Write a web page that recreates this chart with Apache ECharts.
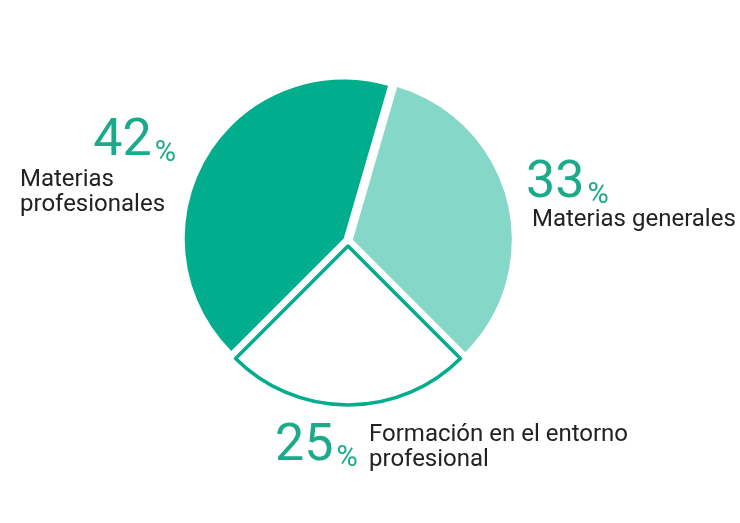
<!DOCTYPE html>
<html>
<head>
<meta charset="utf-8">
<script src="https://cdn.jsdelivr.net/npm/echarts@6/dist/echarts.min.js"></script>
<style>
html,body{margin:0;padding:0;background:#fff;}
#chart{width:740px;height:523px;}
</style>
</head>
<body>
<div id="chart"></div>
<script>
// ---- data ----
var categories = ['Materias\nprofesionales', 'Materias generales', 'Formación en el entorno\nprofesional'];
var values = [42, 33, 25];

// ---- styles / layout (not data) ----
var GREEN = '#00AD8D';
var LIGHT = '#85D8C7';
var TEXTGREEN = '#1BAB8B';
var sliceFill = [GREEN, LIGHT, '#ffffff'];
var sliceBorder = [GREEN, LIGHT, GREEN];
var sliceBorderWidth = [0, 0, 3.5];
var numLayout = [
  {x: 176, y: 116, align: 'right'},
  {x: 526, y: 158, align: 'left'},
  {x: 275, y: 421, align: 'left'}
];
var nameLayout = [
  {x: 20, y: 167, size: 24, lh: 25},
  {x: 532, y: 207.5, size: 24, lh: 25},
  {x: 369, y: 422.5, size: 24, lh: 25}
];

var pieData = values.map(function (v, i) {
  var st = {color: sliceFill[i], borderColor: sliceBorder[i], borderWidth: sliceBorderWidth[i]};
  return {value: v, name: categories[i], selected: true, itemStyle: st, select: {itemStyle: st}};
});

var numRich = {
  n: {fontFamily: 'Roboto', fontWeight: 400, fontSize: 52, lineHeight: 52, fill: TEXTGREEN},
  p: {fontFamily: 'Roboto', fontWeight: 400, fontSize: 29, lineHeight: 39, fill: TEXTGREEN, verticalAlign: 'bottom', padding: [0, 0, 0, 3]}
};

var graphics = [];
values.forEach(function (v, i) {
  var L = numLayout[i];
  graphics.push({
    type: 'text', x: L.x, y: L.y, silent: true,
    style: {text: '{n|' + v + '}{p|%}', rich: numRich, align: L.align, verticalAlign: 'top'}
  });
  var N = nameLayout[i];
  graphics.push({
    type: 'text', x: N.x, y: N.y, silent: true,
    style: {text: categories[i], fontFamily: 'Roboto', fontSize: N.size, lineHeight: N.lh,
            fill: '#222222', align: 'left', verticalAlign: 'top'}
  });
});

var chart = echarts.init(document.getElementById('chart'), null, {renderer: 'canvas'});
chart.setOption({
  backgroundColor: '#ffffff',
  animation: false,
  graphic: graphics,
  series: [{
    type: 'pie',
    center: [348, 241],
    radius: [0, 159],
    startAngle: 225,
    clockwise: true,
    selectedMode: 'multiple',
    selectedOffset: 5,
    label: {show: false},
    labelLine: {show: false},
    emphasis: {disabled: true},
    data: pieData
  }]
});
</script>
</body>
</html>
